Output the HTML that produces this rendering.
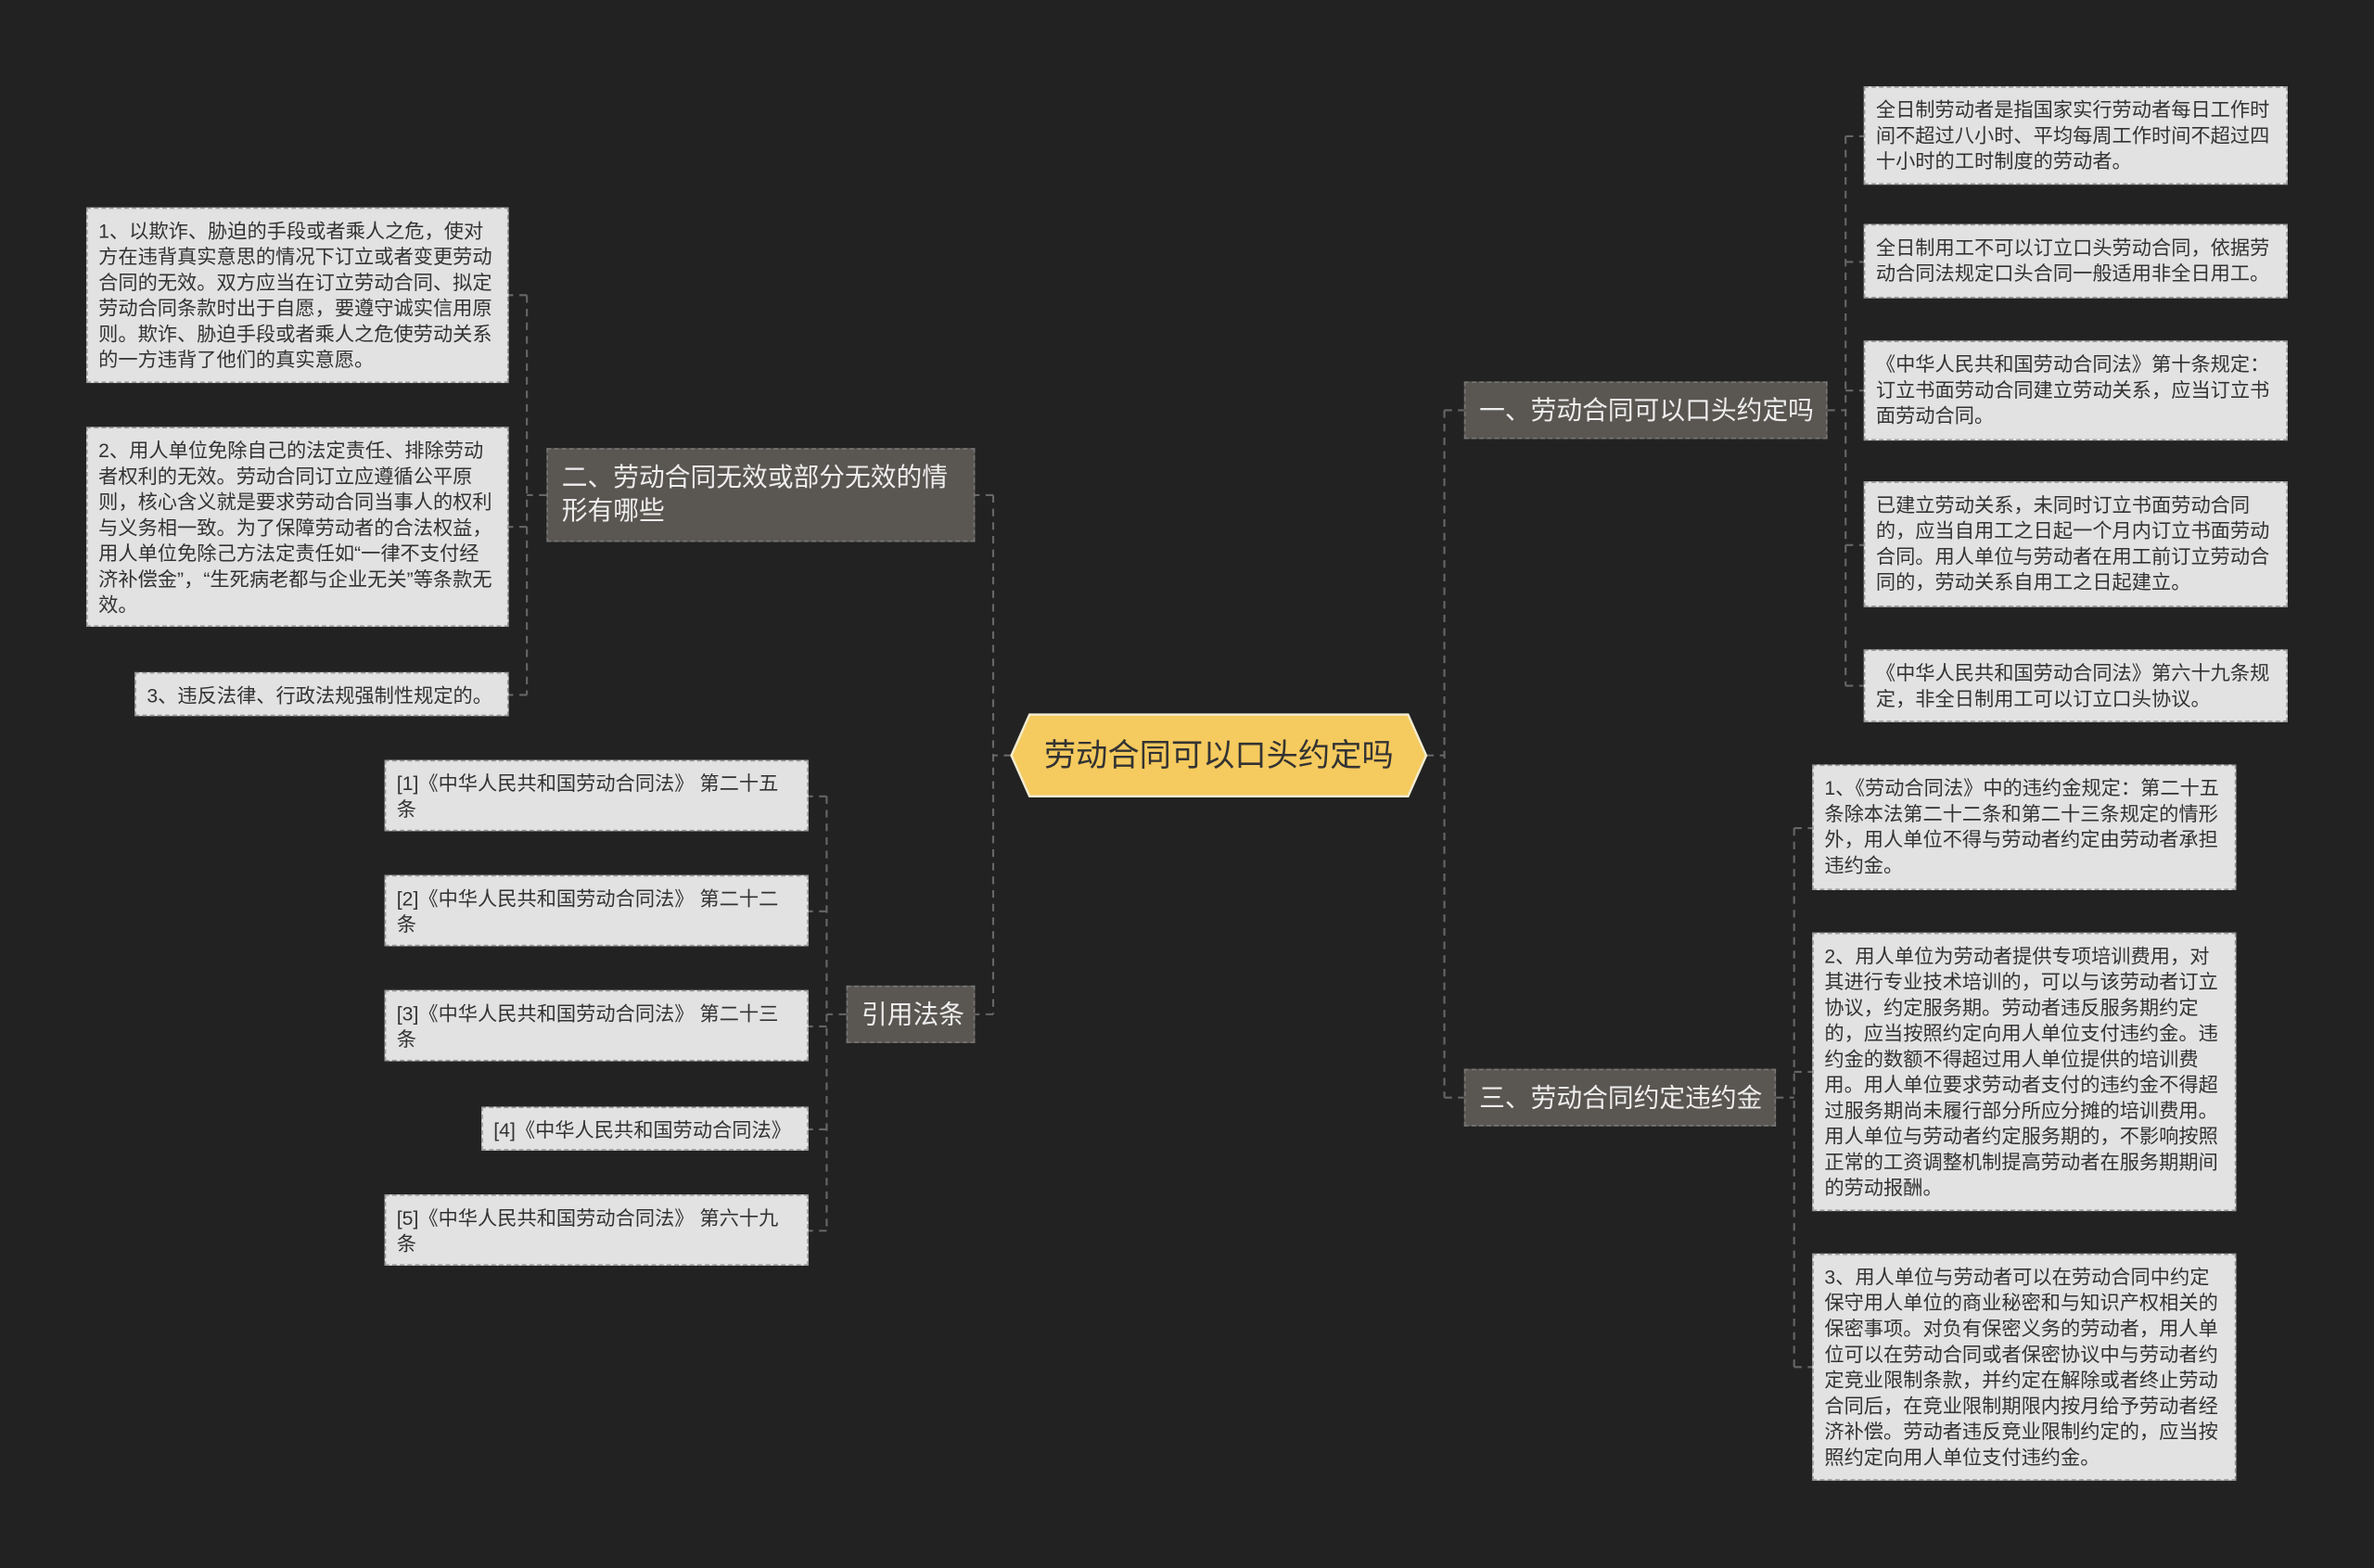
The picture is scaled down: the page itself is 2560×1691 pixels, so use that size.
<!DOCTYPE html>
<html><head><meta charset="utf-8"><style>
html,body{margin:0;padding:0;background:#222;width:2560px;height:1691px;overflow:hidden}
#w{position:absolute;left:0;top:0;width:1568px;height:1036px;transform:scale(1.63265);transform-origin:0 0;font-family:"Liberation Sans","Noto Sans CJK SC",sans-serif}
.l{position:absolute;background:#e2e2e2;border:1px dashed #9a9a9a;box-sizing:border-box;color:#333;font-size:13px;line-height:17px;padding:6px 7px 0 7px;overflow:hidden;word-break:break-all}
.b{position:absolute;background:#5a5652;border:1px dashed #777;box-sizing:border-box;color:#eee;font-size:17px;line-height:22px;padding:8px 8px 0 9px}
.n{white-space:nowrap}
svg{position:absolute;left:0;top:0}
</style></head><body><div id="w">
<svg width="1568" height="1036" fill="none" stroke="#666" stroke-width="1.3" stroke-dasharray="5,4">
<path d="M668 499H656M656 327V670M656 327H644M656 670H644"/>
<path d="M942 499H954M954 271V725M954 271H967M954 725H967"/>
<path d="M1207 271H1219M1219 90V453M1219 90H1231M1219 173H1231M1219 258H1231M1219 360H1231M1219 453H1231"/>
<path d="M1173 725H1185M1185 547V903M1185 547H1197M1185 708H1197M1185 903H1197"/>
<path d="M361 327H348M348 195V459M348 195H336M348 348H336M348 459H336"/>
<path d="M559 670H546M546 526V813M546 526H534M546 602H534M546 678H534M546 746H534M546 813H534"/>
</svg>
<svg width="1568" height="1036"><polygon points="680,472 930,472 942,499 930,526 680,526 668,499" fill="#f5ca5e" stroke="#f3ecd0" stroke-width="1.5"/>
<text x="805" y="506" text-anchor="middle" font-size="21" fill="#333" font-family="Liberation Sans,Noto Sans CJK SC,sans-serif">劳动合同可以口头约定吗</text></svg>

<div class="b n" style="left:967px;top:252px;width:240px;height:38px">一、劳动合同可以口头约定吗</div>
<div class="b n" style="left:967px;top:706px;width:206px;height:38px">三、劳动合同约定违约金</div>
<div class="b" style="left:361px;top:296px;width:283px;height:62px">二、劳动合同无效或部分无效的情形有哪些</div>
<div class="b n" style="left:559px;top:651px;width:85px;height:38px">引用法条</div>

<div class="l" style="left:1231px;top:57px;width:280px;height:65px">全日制劳动者是指国家实行劳动者每日工作时间不超过八小时、平均每周工作时间不超过四十小时的工时制度的劳动者。</div>
<div class="l" style="left:1231px;top:148px;width:280px;height:49px">全日制用工不可以订立口头劳动合同，依据劳动合同法规定口头合同一般适用非全日用工。</div>
<div class="l" style="left:1231px;top:225px;width:280px;height:66px">《中华人民共和国劳动合同法》第十条规定：订立书面劳动合同建立劳动关系，应当订立书面劳动合同。</div>
<div class="l" style="left:1231px;top:318px;width:280px;height:83px">已建立劳动关系，未同时订立书面劳动合同的，应当自用工之日起一个月内订立书面劳动合同。用人单位与劳动者在用工前订立劳动合同的，劳动关系自用工之日起建立。</div>
<div class="l" style="left:1231px;top:429px;width:280px;height:48px">《中华人民共和国劳动合同法》第六十九条规定，非全日制用工可以订立口头协议。</div>

<div class="l" style="left:1197px;top:505px;width:280px;height:83px">1、《劳动合同法》中的违约金规定：第二十五条除本法第二十二条和第二十三条规定的情形外，用人单位不得与劳动者约定由劳动者承担违约金。</div>
<div class="l" style="left:1197px;top:616px;width:280px;height:184px">2、用人单位为劳动者提供专项培训费用，对其进行专业技术培训的，可以与该劳动者订立协议，约定服务期。劳动者违反服务期约定的，应当按照约定向用人单位支付违约金。违约金的数额不得超过用人单位提供的培训费用。用人单位要求劳动者支付的违约金不得超过服务期尚未履行部分所应分摊的培训费用。用人单位与劳动者约定服务期的，不影响按照正常的工资调整机制提高劳动者在服务期期间的劳动报酬。</div>
<div class="l" style="left:1197px;top:828px;width:280px;height:150px">3、用人单位与劳动者可以在劳动合同中约定保守用人单位的商业秘密和与知识产权相关的保密事项。对负有保密义务的劳动者，用人单位可以在劳动合同或者保密协议中与劳动者约定竞业限制条款，并约定在解除或者终止劳动合同后，在竞业限制期限内按月给予劳动者经济补偿。劳动者违反竞业限制约定的，应当按照约定向用人单位支付违约金。</div>

<div class="l" style="left:57px;top:137px;width:279px;height:116px">1、以欺诈、胁迫的手段或者乘人之危，使对方在违背真实意思的情况下订立或者变更劳动合同的无效。双方应当在订立劳动合同、拟定劳动合同条款时出于自愿，要遵守诚实信用原则。欺诈、胁迫手段或者乘人之危使劳动关系的一方违背了他们的真实意愿。</div>
<div class="l" style="left:57px;top:282px;width:279px;height:132px">2、用人单位免除自己的法定责任、排除劳动者权利的无效。劳动合同订立应遵循公平原则，核心含义就是要求劳动合同当事人的权利与义务相一致。为了保障劳动者的合法权益，用人单位免除己方法定责任如“一律不支付经济补偿金”，“生死病老都与企业无关”等条款无效。</div>
<div class="l" style="left:89px;top:444px;width:247px;height:29px">3、违反法律、行政法规强制性规定的。</div>

<div class="l" style="left:254px;top:502px;width:280px;height:47px">[1]《中华人民共和国劳动合同法》 第二十五条</div>
<div class="l" style="left:254px;top:578px;width:280px;height:47px">[2]《中华人民共和国劳动合同法》 第二十二条</div>
<div class="l" style="left:254px;top:654px;width:280px;height:47px">[3]《中华人民共和国劳动合同法》 第二十三条</div>
<div class="l" style="left:318px;top:731px;width:216px;height:29px">[4]《中华人民共和国劳动合同法》</div>
<div class="l" style="left:254px;top:789px;width:280px;height:47px">[5]《中华人民共和国劳动合同法》 第六十九条</div>
</div></body></html>
